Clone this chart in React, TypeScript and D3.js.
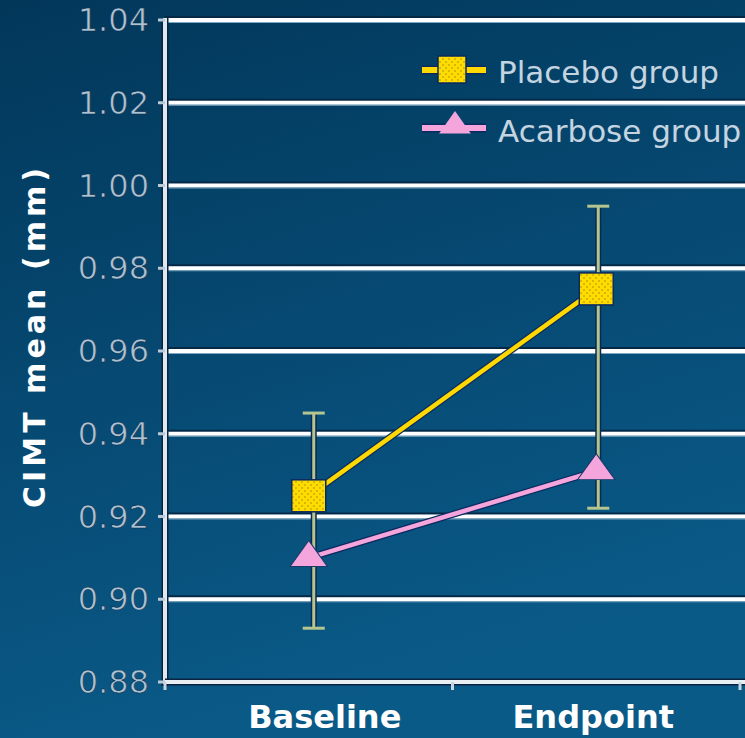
import React from "react";
import * as d3 from "d3";

const categories = ["Baseline", "Endpoint"];
const placebo = [0.925, 0.975];
const acarbose = [0.91, 0.931];
const errLow = [0.893, 0.922];
const errHigh = [0.945, 0.995];
const yTicks = [0.88, 0.9, 0.92, 0.94, 0.96, 0.98, 1.0, 1.02, 1.04];
const seriesNames = ["Placebo group", "Acarbose group"];

const W = 745;
const H = 738;

export default function App() {
  const left = 165;
  const right = 740;
  const top = 20;
  const bottom = 682;
  const x = d3.scaleBand<string>().domain(categories).range([left, right]).padding(0);
  const y = d3.scaleLinear().domain([0.88, 1.04]).range([bottom, top]);
  const cx = (c: string) => (x(c) as number) + x.bandwidth() / 2;

  const line = d3
    .line<number>()
    .x((_, i) => cx(categories[i]))
    .y((d) => y(d));

  const tri = d3.symbol().type(d3.symbolTriangle).size(480);
  const triLegend = d3.symbol().type(d3.symbolTriangle).size(360);

  const bandEdges = [left, left + x.bandwidth(), right];

  return (
    <svg width={W} height={H} style={{ position: "absolute", left: 0, top: 0 }}>
      <defs>
        <linearGradient id="bg" x1="0" y1="0" x2="0.3" y2="1">
          <stop offset="0" stopColor="#02375a" />
          <stop offset="1" stopColor="#0a5a88" />
        </linearGradient>
        <pattern id="dots" width="6" height="6" patternUnits="userSpaceOnUse">
          <rect width="6" height="6" fill="#ffdc00" />
          <rect x="1" y="1" width="2" height="2" fill="#d8b800" />
          <rect x="4" y="4" width="2" height="2" fill="#d8b800" />
        </pattern>
      </defs>
      <rect width={W} height={H} fill="url(#bg)" />

      {/* gridlines */}
      {yTicks.slice(1).map((t) => (
        <g key={t}>
          <line x1={left} x2={W} y1={y(t) - 3} y2={y(t) - 3} stroke="#062845" strokeWidth={2} />
          <line x1={left} x2={W} y1={y(t)} y2={y(t)} stroke="#ffffff" strokeWidth={4} />
          <line x1={left} x2={W} y1={y(t) + 2.5} y2={y(t) + 2.5} stroke="#7fa8c4" strokeWidth={1} />
        </g>
      ))}

      {/* axes */}
      <line x1={left} x2={left} y1={top - 2} y2={bottom + 4} stroke="#0a2340" strokeWidth={7} />
      <line x1={left} x2={left} y1={top - 2} y2={bottom + 2} stroke="#dfe8ee" strokeWidth={4} />
      <line x1={left} x2={W} y1={bottom} y2={bottom} stroke="#0a2340" strokeWidth={7} />
      <line x1={left} x2={W} y1={bottom} y2={bottom} stroke="#e8eef2" strokeWidth={4} />
      {yTicks.map((t) => (
        <line key={t} x1={left - 7} x2={left} y1={y(t)} y2={y(t)} stroke="#b8cad8" strokeWidth={3} />
      ))}
      {bandEdges.map((e, i) => (
        <line key={i} x1={e} x2={e} y1={bottom} y2={bottom + 8} stroke="#c8d6e0" strokeWidth={3} />
      ))}

      {/* y tick labels */}
      {yTicks.map((t) => (
        <text
          key={t}
          x={149}
          y={y(t) + 11}
          textAnchor="end"
          fontFamily="DejaVu Sans"
          fontSize={32}
          fill="#a9c2d4"
          stroke="#0a2a48"
          strokeWidth={0.6}
        >
          {t.toFixed(2)}
        </text>
      ))}

      {/* y axis title */}
      <text
        transform={`translate(45, 338) rotate(-90)`}
        textAnchor="middle"
        fontFamily="DejaVu Sans"
        fontWeight="bold"
        fontSize={30}
        fill="#ffffff"
        textLength={340}
        lengthAdjust="spacing"
      >
        CIMT mean (mm)
      </text>

      {/* x labels */}
      {categories.map((c, i) => (
        <text
          key={c}
          x={cx(c) + (i === 0 ? 16 : -3)}
          y={728}
          textAnchor="middle"
          fontFamily="DejaVu Sans"
          fontWeight="bold"
          fontSize={32}
          fill="#ffffff"
        >
          {c}
        </text>
      ))}

      {/* error bars */}
      {categories.map((c, i) => {
        const ex = cx(c) + (i === 0 ? 5 : 2);
        return (
          <g key={c}>
            <line x1={ex} x2={ex} y1={y(errHigh[i])} y2={y(errLow[i])} stroke="#0a2a50" strokeWidth={6} />
            <line x1={ex} x2={ex} y1={y(errHigh[i])} y2={y(errLow[i])} stroke="#b5c590" strokeWidth={3} />
            <line x1={ex - 11} x2={ex + 11} y1={y(errHigh[i])} y2={y(errHigh[i])} stroke="#b5c590" strokeWidth={3} />
            <line x1={ex - 11} x2={ex + 11} y1={y(errLow[i])} y2={y(errLow[i])} stroke="#b5c590" strokeWidth={3} />
          </g>
        );
      })}

      {/* lines */}
      <path d={line(acarbose) || ""} fill="none" stroke="#0a2a60" strokeWidth={7} />
      <path d={line(acarbose) || ""} fill="none" stroke="#f4a6dc" strokeWidth={4.5} />
      <path d={line(placebo) || ""} fill="none" stroke="#0a2a60" strokeWidth={7} />
      <path d={line(placebo) || ""} fill="none" stroke="#ffd800" strokeWidth={4.5} />

      {/* markers */}
      {acarbose.map((v, i) => (
        <path
          key={i}
          d={tri() || ""}
          transform={`translate(${cx(categories[i])}, ${y(v)}) scale(1.12, 0.9)`}
          fill="#f4a6dc"
          stroke="#1a3a6a"
          strokeWidth={1}
        />
      ))}
      {placebo.map((v, i) => (
        <rect
          key={i}
          x={cx(categories[i]) - 17}
          y={y(v) - 16}
          width={34}
          height={32}
          fill="url(#dots)"
          stroke="#0a2a60"
          strokeWidth={1.5}
        />
      ))}

      {/* legend */}
      <g>
        <line x1={422} x2={486} y1={70} y2={70} stroke="#0a2a60" strokeWidth={9} />
        <line x1={422} x2={486} y1={70} y2={70} stroke="#ffd800" strokeWidth={6} />
        <rect x={438} y={56} width={28} height={27} fill="url(#dots)" stroke="#0a2a60" strokeWidth={1.5} />
        <text x={498} y={83} fontFamily="DejaVu Sans" fontSize={31} fill="#c4d4e0">
          {seriesNames[0]}
        </text>
        <line x1={422} x2={486} y1={128} y2={128} stroke="#0a2a60" strokeWidth={9} />
        <line x1={422} x2={486} y1={128} y2={128} stroke="#f4a6dc" strokeWidth={6} />
        <path d={triLegend() || ""} transform="translate(455, 126) scale(1.1, 0.9)" fill="#f4a6dc" />
        <text x={498} y={142} fontFamily="DejaVu Sans" fontSize={31} fill="#c4d4e0">
          {seriesNames[1]}
        </text>
      </g>
    </svg>
  );
}
